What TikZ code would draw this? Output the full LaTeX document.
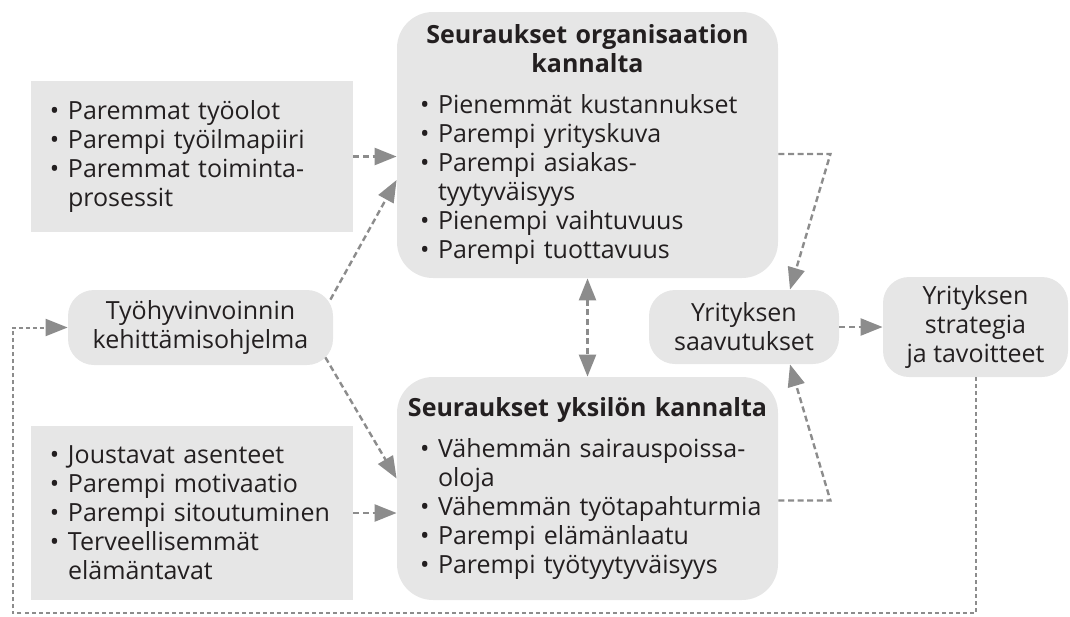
\documentclass[tikz,border=0pt]{standalone}
\usepackage{fontspec}
\setmainfont{Open Sans}
\usetikzlibrary{arrows.meta,calc}

\definecolor{laatikko}{HTML}{E6E6E6}
\definecolor{nuolenvari}{HTML}{8C8C8C}
\definecolor{teksti}{HTML}{231F20}

\newcommand{\kohta}{\hspace*{5.5pt}\makebox[9pt][l]{\textbullet}}
\newcommand{\jatko}{\hspace*{14.5pt}}
\newcommand{\otsikko}[1]{\makebox[\hsize]{\bfseries #1}}

\begin{document}
\begin{tikzpicture}
  [x=0.5pt,y=-0.5pt,
   every node/.style={text=teksti,font=\fontsize{12.5pt}{14.5pt}\selectfont},
   lista/.style={fill=laatikko,minimum width=161pt,inner xsep=4pt,text width=153pt,align=left},
   seuraus/.style={fill=laatikko,rounded corners=18pt,minimum width=190.5pt,inner xsep=6pt,text width=178.5pt,align=left},
   pallo/.style={fill=laatikko,rounded corners=13pt,align=center},
   nuoli/.style={draw=nuolenvari,line width=1.2pt,dash pattern=on 3pt off 1.8pt,-{Triangle[length=11pt,width=8.5pt]}},
   kaksinuoli/.style={nuoli,{Triangle[length=11pt,width=8.5pt]}-{Triangle[length=11pt,width=8.5pt]}},
   paluu/.style={nuoli,line width=1pt,dash pattern=on 2pt off 1.5pt}]
  \useasboundingbox (0,0) rectangle (1070,616);

  \node[lista,minimum height=75.5pt] (olot) at (192,156.5)
    {\kohta Paremmat työolot\\
     \kohta Parempi työilmapiiri\\
     \kohta Paremmat toiminta-\\
     \jatko prosessit};
  \node[lista,minimum height=87pt] (asenteet) at (192,513)
    {\kohta Joustavat asenteet\\
     \kohta Parempi motivaatio\\
     \kohta Parempi sitoutuminen\\
     \kohta Terveellisemmät\\
     \jatko elämäntavat};
  \node[pallo,minimum width=132.5pt,minimum height=37.5pt] (ohjelma) at (200.5,327.5)
    {Työhyvinvoinnin\\kehittämisohjelma};

  \node[seuraus,minimum height=133pt] (org) at (587.5,145)
    {\otsikko{Seuraukset organisaation}\\
     \otsikko{kannalta}\\[6pt]
     \kohta Pienemmät kustannukset\\
     \kohta Parempi yrityskuva\\
     \kohta Parempi asiakas-\\
     \jatko tyytyväisyys\\
     \kohta Pienempi vaihtuvuus\\
     \kohta Parempi tuottavuus};
  \node[seuraus,minimum height=111.5pt] (yks) at (587.5,488.5)
    {\otsikko{Seuraukset yksilön kannalta}\\[6pt]
     \kohta Vähemmän sairauspoissa-\\
     \jatko oloja\\
     \kohta Vähemmän~työtapahturmia\\
     \kohta Parempi elämänlaatu\\
     \kohta Parempi työtyytyväisyys};

  \node[pallo,minimum width=95pt,minimum height=37pt] (saav) at (744,327)
    {Yrityksen\\saavutukset};
  \node[pallo,minimum width=92.5pt,minimum height=50pt] (strat) at (975.5,327)
    {Yrityksen\\strategia\\ja tavoitteet};

  \draw[nuoli] (olot) -- (olot -| org.west);
  \draw[nuoli] (asenteet) -- (asenteet -| yks.west);
  \draw[nuoli] ($(ohjelma.north east)+(-3,10)$) -- ($(org.west)+(0,35)$);
  \draw[nuoli] ($(ohjelma.south east)+(-8,-8)$) -- ($(yks.west)+(0,-10)$);
  \draw[kaksinuoli] (org) -- (yks);
  \draw[nuoli] ($(org.east)+(0,9)$) -- ++(52,0) -- ($(saav.north)+(46,0)$);
  \draw[nuoli] ($(yks.east)+(0,12)$) -- ++(52,0) -- ($(saav.south)+(46,0)$);
  \draw[nuoli] (saav) -- (strat);
  \draw[paluu] (strat.south) -- ++(0,236) -| ($(ohjelma.west)+(-55,0)$) -- (ohjelma.west);
\end{tikzpicture}
\end{document}
